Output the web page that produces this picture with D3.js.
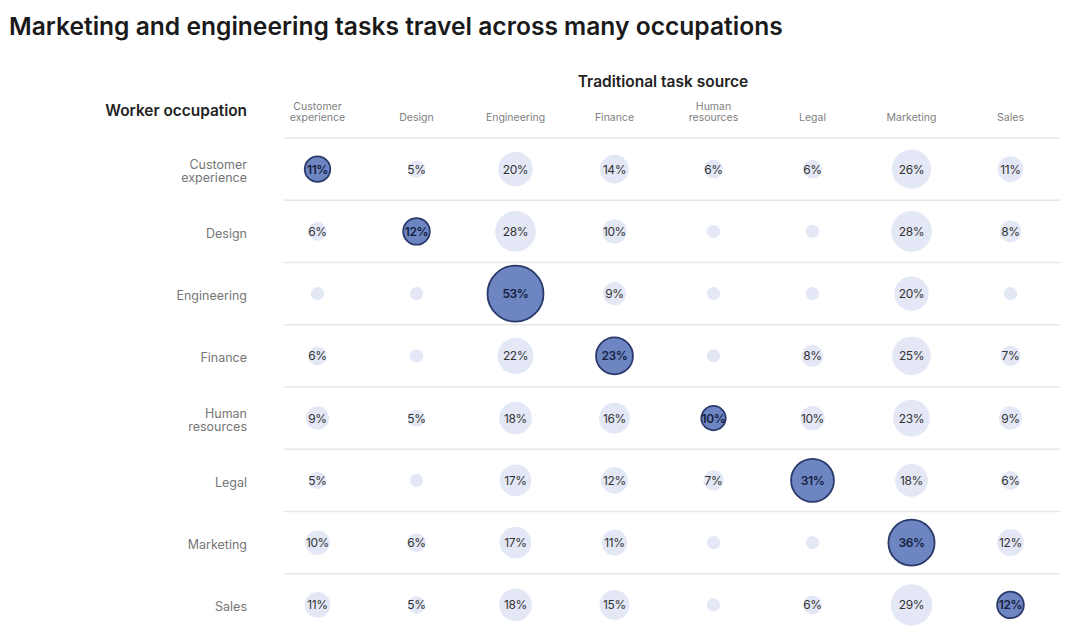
<!DOCTYPE html>
<html>
<head>
<meta charset="utf-8">
<script src="https://cdn.jsdelivr.net/npm/d3@7"></script>
<style>
  body { margin: 0; background: #fff; font-family: Inter, 'Noto Sans', sans-serif; }
</style>
</head>
<body>
<div class="canvas"></div>
<script>
// data
const occupations = ['Customer experience', 'Design', 'Engineering', 'Finance', 'Human resources', 'Legal', 'Marketing', 'Sales']
const sources = ['Customer experience', 'Design', 'Engineering', 'Finance', 'Human resources', 'Legal', 'Marketing', 'Sales']
// unlabeled cells (below 5%) estimated at 3
const customerExperience = [11, 5, 20, 14, 6, 6, 26, 11]
const design = [6, 12, 28, 10, 3, 3, 28, 8]
const engineering = [3, 3, 53, 9, 3, 3, 20, 3]
const finance = [6, 3, 22, 23, 3, 8, 25, 7]
const humanResources = [9, 5, 18, 16, 10, 10, 23, 9]
const legal = [5, 3, 17, 12, 7, 31, 18, 6]
const marketing = [10, 6, 17, 11, 3, 3, 36, 12]
const sales = [11, 5, 18, 15, 3, 6, 29, 12]
const rows = [customerExperience, design, engineering, finance, humanResources, legal, marketing, sales]
const labelMin = 5

const cells = []
rows.forEach((vals, i) => {
  vals.forEach((v, j) => {
    cells.push({ row: occupations[i], col: sources[j], value: v })
  })
})

const width = 1080
const height = 642

const svg = d3
  .select('.canvas')
  .append('svg')
  .attr('width', width)
  .attr('height', height)

// title
svg
  .append('text')
  .attr('x', 9)
  .attr('y', 35)
  .attr('font-size', 24.6)
  .attr('font-weight', 600)
  .attr('fill', '#1a1a1a')
  .text('Marketing and engineering tasks travel across many occupations')

// scales
const x = d3.scaleBand().domain(sources).range([268, 1060])
const y = d3.scaleBand().domain(occupations).range([138, 636])
const r = d3.scaleSqrt().domain([0, 53]).range([0, 28])

// split two-word labels onto two lines
const splitLabel = (s) => (s.includes(' ') ? s.split(' ') : [s])

// headings
svg
  .append('text')
  .attr('x', 663)
  .attr('y', 87)
  .attr('text-anchor', 'middle')
  .attr('font-size', 15.5)
  .attr('font-weight', 600)
  .attr('fill', '#222')
  .text('Traditional task source')

svg
  .append('text')
  .attr('x', 247)
  .attr('y', 116)
  .attr('text-anchor', 'end')
  .attr('font-size', 15.4)
  .attr('font-weight', 600)
  .attr('fill', '#222')
  .text('Worker occupation')

// column headers
const colHeads = svg
  .append('g')
  .selectAll('text')
  .data(sources)
  .enter()
  .append('text')
  .attr('text-anchor', 'middle')
  .attr('font-size', 10.5)
  .attr('fill', '#808080')
  .attr('transform', (d) => `translate(${x(d) + x.bandwidth() / 2}, 121)`)

colHeads
  .selectAll('tspan')
  .data((d) => {
    const parts = splitLabel(d)
    return parts.map((p, k) => ({ p, dy: (k - (parts.length - 1)) * 11.5 }))
  })
  .enter()
  .append('tspan')
  .attr('x', 0)
  .attr('y', (d) => d.dy)
  .text((d) => d.p)

// row labels
const rowHeads = svg
  .append('g')
  .selectAll('text')
  .data(occupations)
  .enter()
  .append('text')
  .attr('text-anchor', 'end')
  .attr('font-size', 12.5)
  .attr('fill', '#767676')
  .attr('transform', (d) => `translate(247, ${y(d) + y.bandwidth() / 2 + 2})`)

rowHeads
  .selectAll('tspan')
  .data((d) => {
    const parts = splitLabel(d)
    return parts.map((p, k) => ({ p, dy: (k - (parts.length - 1) / 2) * 13.5 + 4.5 }))
  })
  .enter()
  .append('tspan')
  .attr('x', 0)
  .attr('y', (d) => d.dy)
  .text((d) => d.p)

// row separators
svg
  .append('g')
  .selectAll('line')
  .data(occupations)
  .enter()
  .append('line')
  .attr('x1', 284)
  .attr('x2', 1060)
  .attr('y1', (d) => y(d))
  .attr('y2', (d) => y(d))
  .attr('stroke', '#e6e6e6')
  .attr('stroke-width', 1.5)

// circles
const cellGroup = svg.append('g')

cellGroup
  .selectAll('circle')
  .data(cells)
  .enter()
  .append('circle')
  .attr('cx', (d) => x(d.col) + x.bandwidth() / 2)
  .attr('cy', (d) => y(d.row) + y.bandwidth() / 2)
  .attr('r', (d) => r(d.value))
  .attr('fill', (d) => (d.row === d.col ? '#6d86c2' : '#e4e8f6'))
  .attr('stroke', (d) => (d.row === d.col ? '#2b3a6b' : 'none'))
  .attr('stroke-width', 1.8)

cellGroup
  .selectAll('text')
  .data(cells.filter((d) => d.value >= labelMin))
  .enter()
  .append('text')
  .attr('x', (d) => x(d.col) + x.bandwidth() / 2)
  .attr('y', (d) => y(d.row) + y.bandwidth() / 2 + 4.5)
  .attr('text-anchor', 'middle')
  .attr('font-size', 12)
  .attr('letter-spacing', -0.4)
  .attr('font-weight', (d) => (d.row === d.col ? 600 : 400))
  .attr('fill', (d) => (d.row === d.col ? '#16213f' : '#333'))
  .text((d) => `${d.value}%`)
</script>
</body>
</html>
